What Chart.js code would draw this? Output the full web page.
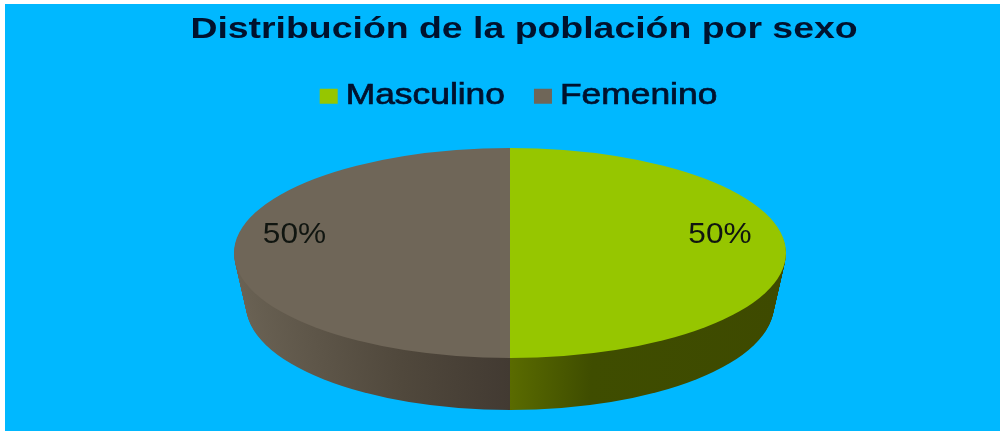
<!DOCTYPE html>
<html><head><meta charset="utf-8">
<style>html,body{margin:0;padding:0;background:#fff}canvas{display:block}#w{width:1000px;height:431px;position:relative}</style>
<script src="https://cdn.jsdelivr.net/npm/chart.js@4"></script>
</head><body><div id="w"><canvas id="c" width="1000" height="431"></canvas></div>
<script>
const categories = ["Masculino", "Femenino"];
const values = [50, 50];
const colors = ["#96C600", "#6F6658"];
const titleText = "Distribución de la población por sexo";

const canvas = document.getElementById('c');
const ctx2d = canvas.getContext('2d');
// The reference's text is stretched horizontally: widen every text run and report the wider size.
const stretchFor = (t) => categories.includes(t) ? 1.22 : (t === titleText ? 1.29 : 1.09);
const legendGapTrim = 6.5;
const rawFill = ctx2d.fillText.bind(ctx2d), rawMeasure = ctx2d.measureText.bind(ctx2d);
ctx2d.fillText = function (t, x, y, m) {
  const isLegend = categories.includes(t);
  ctx2d.save();
  ctx2d.translate(x - (isLegend ? legendGapTrim : 0), y);
  ctx2d.scale(stretchFor(t), 1);
  rawFill(t, 0, 0);
  if (isLegend) {
    ctx2d.strokeStyle = ctx2d.fillStyle;
    ctx2d.lineWidth = 0.7;
    ctx2d.strokeText(t, 0, 0);
  }
  ctx2d.restore();
};
ctx2d.measureText = function (t) {
  const w = rawMeasure(t).width * stretchFor(t) - (categories.includes(t) ? legendGapTrim : 0);
  return { width: w };
};

const tilt = {
  id: 'tilt',
  afterLayout(chart) {
    chart.legend.left -= 5.5; chart.legend.right -= 5.5;
  },
  beforeDraw(chart) {
    const c = chart.ctx;
    c.save();
    c.fillStyle = '#00B8FF';
    c.fillRect(5, 4, 995, 427);
    c.restore();
  },
  beforeDatasetDraw(chart) {
    const c = chart.ctx, meta = chart.getDatasetMeta(0);
    const cx = 510, cy = 253, depth = 52, rx = 276, ry = 105, taper = 12;
    const el0 = meta.data[0];
    const R = el0.outerRadius;
    const apply = (dy) => {
      c.translate(cx, cy + dy);
      c.scale((rx - taper * dy / depth) / R, ry / R);
      c.translate(-el0.x, -el0.y);
    };
    const toLocal = (px) => el0.x + (px - cx) * R / rx;
    const g0 = c.createLinearGradient(toLocal(510), 0, toLocal(786), 0);
    g0.addColorStop(0, '#5A6B00'); g0.addColorStop(0.3, '#3F4D00'); g0.addColorStop(1, '#3E4A00');
    const g1 = c.createLinearGradient(toLocal(234), 0, toLocal(510), 0);
    g1.addColorStop(0, '#6A6254'); g1.addColorStop(0.6, '#50483C'); g1.addColorStop(1, '#423A32');
    const side = [g0, g1];
    meta.data.forEach((el, i) => {
      const o = el.options, keep = o.backgroundColor, keepB = o.borderColor;
      o.backgroundColor = side[i]; o.borderColor = side[i];
      for (let dy = depth; dy > 0; dy -= 1) {
        c.save(); apply(dy); el.draw(c); c.restore();
      }
      o.backgroundColor = keep; o.borderColor = keepB;
    });
    c.save(); apply(0);
    meta.data.forEach(el => el.draw(c));
    c.restore();
    c.save();
    c.font = '29px "Liberation Sans"';
    c.fillStyle = '#101510';
    c.textAlign = 'center'; c.textBaseline = 'middle';
    const total = values.reduce((a, b) => a + b, 0);
    const pos = [[720, 235], [294.5, 235]];
    values.forEach((v, i) => c.fillText(Math.round(v / total * 100) + '%', pos[i][0], pos[i][1]));
    c.restore();
    return false;
  }
};

new Chart(canvas, {
  type: 'pie',
  data: { labels: categories, datasets: [{ data: values, backgroundColor: colors, borderWidth: 0 }] },
  options: {
    responsive: false, animation: false,
    layout: { padding: { left: 48 } },
    plugins: {
      tooltip: { enabled: false },
      title: { display: true, text: titleText, color: '#00122E',
        font: { family: '"Liberation Sans"', size: 29, weight: 'bold' },
        padding: { top: 13, bottom: 5 } },
      legend: { display: true, position: 'top',
        labels: { color: '#00122E', boxWidth: 18, boxHeight: 15, padding: 29,
          font: { family: '"Liberation Sans"', size: 29 } } }
    }
  },
  plugins: [tilt]
});
</script></body></html>
